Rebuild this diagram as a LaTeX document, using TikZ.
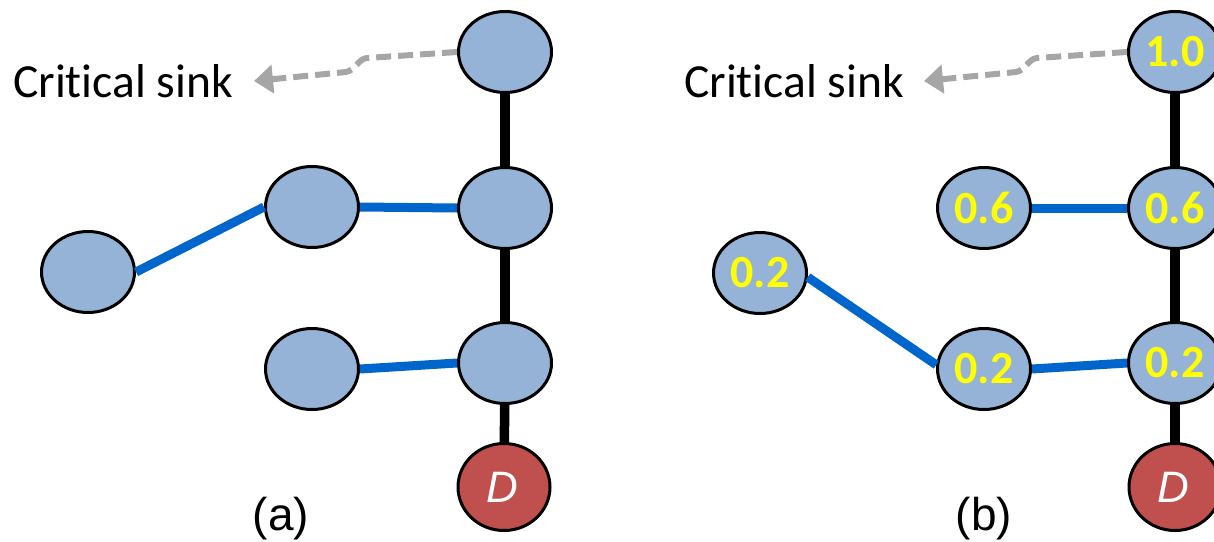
\documentclass[tikz,border=0pt]{standalone}
\usepackage{fontspec}
\setmainfont{Carlito}[Ligatures=NoCommon]
\newfontfamily\arialfont{Liberation Sans}
\usetikzlibrary{shapes.geometric,arrows.meta}
\definecolor{nodeblue}{HTML}{95B3D7}
\definecolor{destred}{HTML}{C0504D}
\definecolor{linkblue}{HTML}{0066CC}
\definecolor{hintgrey}{HTML}{A6A6A6}
\definecolor{valyellow}{HTML}{FFFF00}

\begin{document}
\begin{tikzpicture}[x=1pt,y=-1pt,
  sensor/.style={ellipse, draw=black, line width=3pt, fill=nodeblue,
    minimum width=93pt, minimum height=81pt, inner sep=0pt,
    font=\fontsize{46}{50}\selectfont\bfseries, text=valyellow},
  dest/.style={ellipse, draw=black, line width=3pt, fill=destred,
    minimum width=92pt, minimum height=87pt, inner sep=0pt,
    font=\arialfont\itshape\fontsize{44}{48}\selectfont, text=white},
  trunk/.style={line width=9.5pt, black},
  branch/.style={line width=9pt, linkblue},
  sinkarrow/.style={hintgrey, line width=6pt, dash pattern=on 15pt off 7pt,
    -{Triangle[length=19pt,width=28pt]}},
  caption/.style={font=\fontsize{47.5}{52}\selectfont, anchor=base west, inner sep=0pt},
  panel/.style={font=\arialfont\fontsize{46}{50}\selectfont, anchor=base, inner sep=0pt}
]
\useasboundingbox (0,0) rectangle (1214,541);

% ---------- (a): tree without values ----------
\node[sensor] (a1) at (505,52) {};
\node[sensor] (a2) at (505,208) {};
\node[sensor] (a3) at (505,363) {};
\node[dest]   (ad) at (504,487) {$\!$D};
\node[sensor] (ab) at (312,207) {};
\node[sensor] (ac) at (88,272) {};
\node[sensor] (ae) at (312,369) {};

\draw[trunk] (a1) -- (a2);
\draw[trunk] (a2) -- (a3);
\draw[trunk] (a3) -- (ad);
\draw[branch] (ab.east) -- (a2.west);
\draw[branch] (ac.east) -- (ab.west);
\draw[branch] (ae.east) -- (a3.west);

\coordinate (sinka) at (254,81);
\draw[sinkarrow] (a1.west) -- (367,58) .. controls (358,59) and (356,70) .. (346,72) -- (sinka);
\node[caption] (capa) at (13,97) {Critical sink};
\node[panel] (laba) at (281,530) {(a)};

% ---------- (b): tree with values ----------
\node[sensor] (b1) at (1175,52) {1.0};
\node[sensor] (b2) at (1175,208) {0.6};
\node[sensor] (b3) at (1175,363) {0.2};
\node[dest]   (bd) at (1175,487) {$\!$D};
\node[sensor] (bb) at (984,208) {0.6};
\node[sensor] (bc) at (760,273) {0.2};
\node[sensor] (be) at (984,369) {0.2};

\draw[trunk] (b1) -- (b2);
\draw[trunk] (b2) -- (b3);
\draw[trunk] (b3) -- (bd);
\draw[branch] (bb.east) -- (b2.west);
\draw[branch] (bc.-5) -- (be.175);
\draw[branch] (be.east) -- (b3.west);

\coordinate (sinkb) at (924,81);
\draw[sinkarrow] (b1.west) -- (1037,58) .. controls (1028,59) and (1026,70) .. (1016,72) -- (sinkb);
\node[caption] (capb) at (684,97) {Critical sink};
\node[panel] (labb) at (984,530) {(b)};
\end{tikzpicture}
\end{document}
